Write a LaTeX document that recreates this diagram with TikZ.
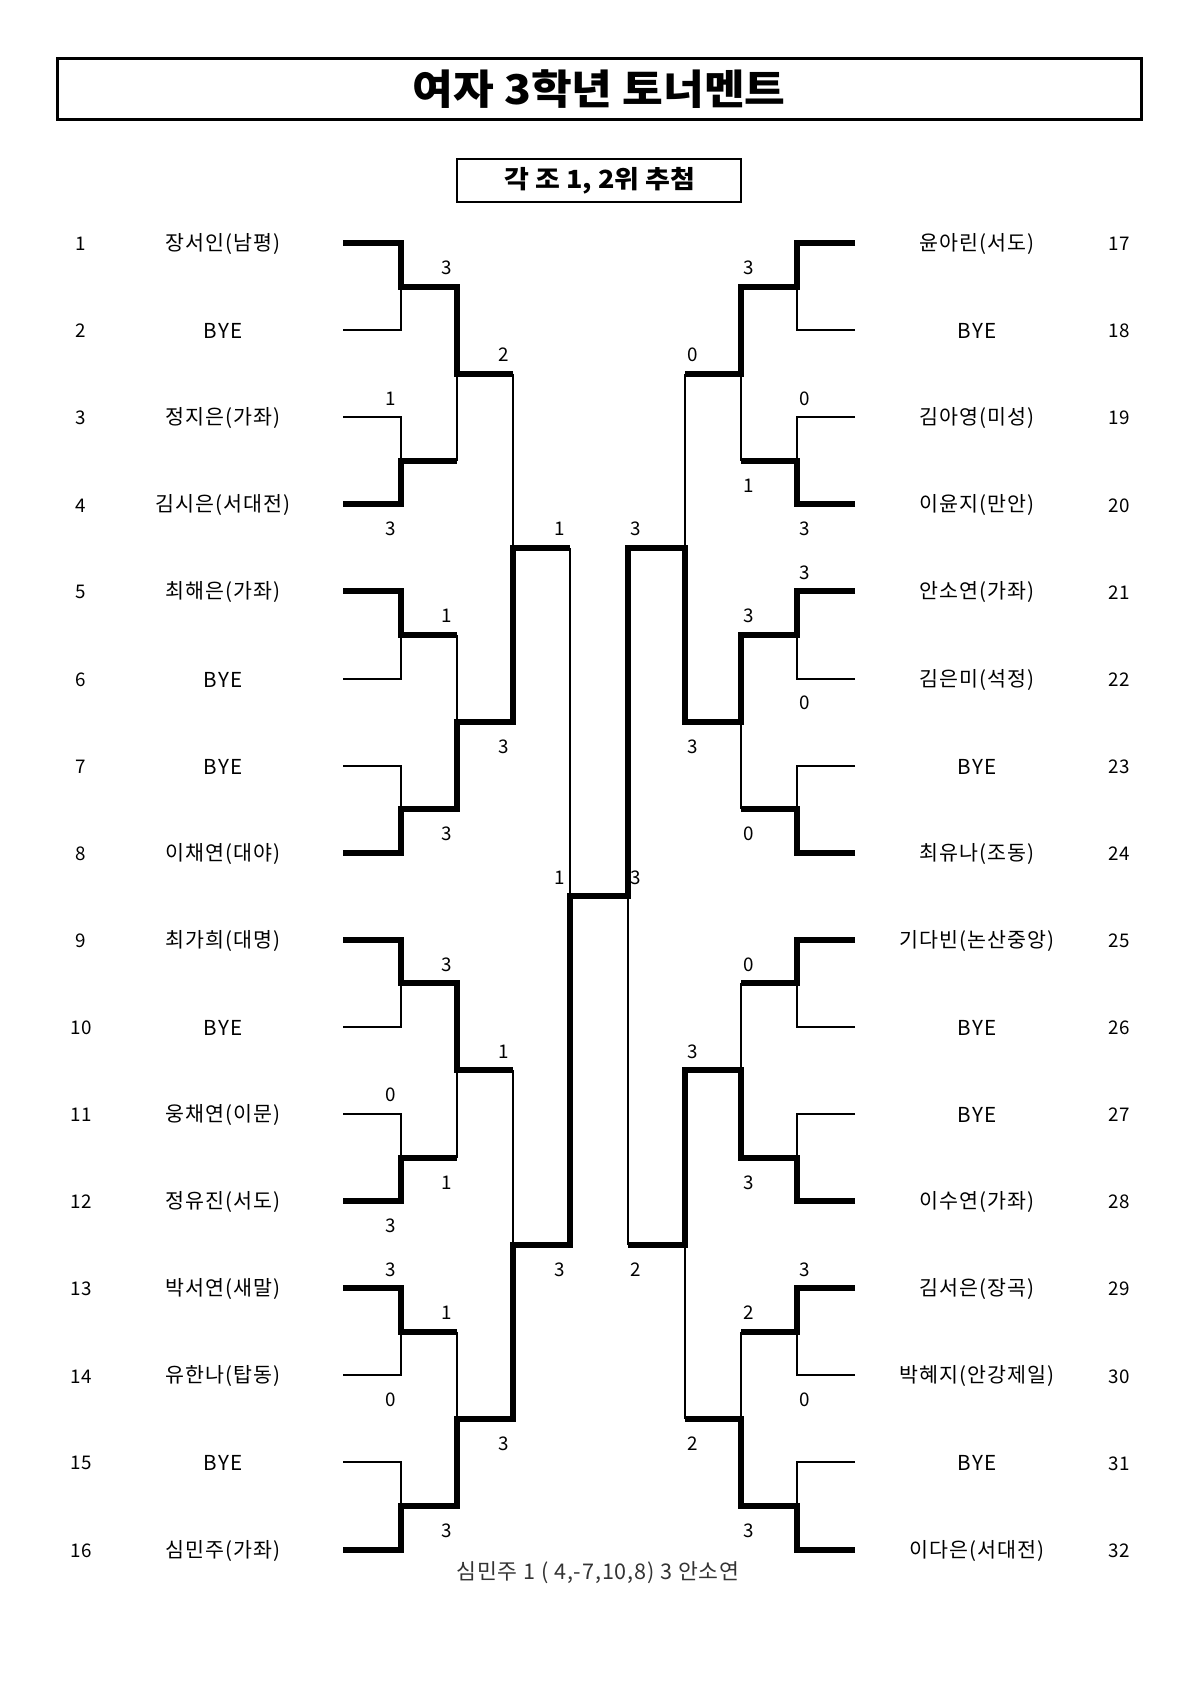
\documentclass[tikz,border=0pt]{standalone}
\usepackage{fontspec}
\setmainfont{Noto Sans CJK KR}
\pgfmathdeclarefunction{ry}{1}{\pgfmathparse{243+(#1-1)*87.1}}
% match drawing: #1 x in, #2 x vertical, #3 x out, #4 winner row, #5 loser row, #6 middle row
\newcommand\mtch[6]{%
  \draw[lose] (#2,{ry(#5)}) -- (#2,{ry(#6)});
  \draw[win] (#1,{ry(#4)}) -- (#2,{ry(#4)}) -- (#2,{ry(#6)}) -- (#3,{ry(#6)});}
\newcommand\fst[6]{%
  \draw[lose] (#1,{ry(#5)}) -- (#2,{ry(#5)}) -- (#2,{ry(#6)});
  \draw[win] (#1,{ry(#4)}) -- (#2,{ry(#4)}) -- (#2,{ry(#6)}) -- (#3,{ry(#6)});}
\begin{document}
\begin{tikzpicture}[x=0.5pt,y=-0.5pt,
  win/.style={line width=3pt, line join=miter},
  lose/.style={line width=1pt, line join=miter},
  nm/.style={font=\fontsize{10.3}{12}\selectfont\addfontfeature{LetterSpace=5}, inner sep=0pt},
  num/.style={font=\fontsize{9.4}{11}\selectfont, inner sep=0pt},
  sc/.style={font=\fontsize{9.4}{11}\selectfont, inner sep=0pt},
]
\useasboundingbox (0,0) rectangle (1200,1697);
\fill[white] (0,0) rectangle (1200,1697);

% title
\draw[line width=1.5pt] (57,58) rectangle (1141,119);
\node[inner sep=0pt, font=\fontsize{20.5}{24}\selectfont\bfseries] (title) at (599,89) {\scalebox{1.08}[1]{여자 3학년 토너멘트}};
\draw[line width=1.1pt] (457,159) rectangle (741,202);
\node[inner sep=0pt, font=\fontsize{12.5}{15}\selectfont\bfseries] (sub) at (600,181) {\scalebox{1.08}[1]{각 조 1, 2위 추첨}};

% ---------- left side ----------
\def\La{343}\def\Lb{401}\def\Lc{457}\def\Ld{513}\def\Le{570}
\def\Ra{855}\def\Rb{797}\def\Rc{741}\def\Rd{685}\def\Re{628}
% round 1
\fst{\La}{\Lb}{\Lc}{1}{2}{1.5}
\fst{\La}{\Lb}{\Lc}{4}{3}{3.5}
\fst{\La}{\Lb}{\Lc}{5}{6}{5.5}
\fst{\La}{\Lb}{\Lc}{8}{7}{7.5}
\fst{\La}{\Lb}{\Lc}{9}{10}{9.5}
\fst{\La}{\Lb}{\Lc}{12}{11}{11.5}
\fst{\La}{\Lb}{\Lc}{13}{14}{13.5}
\fst{\La}{\Lb}{\Lc}{16}{15}{15.5}
% round 2
\mtch{\Lb}{\Lc}{\Ld}{1.5}{3.5}{2.5}
\mtch{\Lb}{\Lc}{\Ld}{7.5}{5.5}{6.5}
\mtch{\Lb}{\Lc}{\Ld}{9.5}{11.5}{10.5}
\mtch{\Lb}{\Lc}{\Ld}{15.5}{13.5}{14.5}
% round 3
\mtch{\Lc}{\Ld}{\Le}{6.5}{2.5}{4.5}
\mtch{\Lc}{\Ld}{\Le}{14.5}{10.5}{12.5}
% semifinal
\mtch{\Ld}{\Le}{\Re}{12.5}{4.5}{8.5}

% ---------- right side ----------
\fst{\Ra}{\Rb}{\Rc}{1}{2}{1.5}
\fst{\Ra}{\Rb}{\Rc}{4}{3}{3.5}
\fst{\Ra}{\Rb}{\Rc}{5}{6}{5.5}
\fst{\Ra}{\Rb}{\Rc}{8}{7}{7.5}
\fst{\Ra}{\Rb}{\Rc}{9}{10}{9.5}
\fst{\Ra}{\Rb}{\Rc}{12}{11}{11.5}
\fst{\Ra}{\Rb}{\Rc}{13}{14}{13.5}
\fst{\Ra}{\Rb}{\Rc}{16}{15}{15.5}
\mtch{\Rb}{\Rc}{\Rd}{1.5}{3.5}{2.5}
\mtch{\Rb}{\Rc}{\Rd}{5.5}{7.5}{6.5}
\mtch{\Rb}{\Rc}{\Rd}{11.5}{9.5}{10.5}
\mtch{\Rb}{\Rc}{\Rd}{15.5}{13.5}{14.5}
\mtch{\Rc}{\Rd}{\Re}{6.5}{2.5}{4.5}
\mtch{\Rc}{\Rd}{\Re}{10.5}{14.5}{12.5}
\mtch{\Rd}{\Re}{\Le}{4.5}{12.5}{8.5}

% ---------- entries ----------
\foreach \r/\t [count=\i] in {1/장서인(남평),2/BYE,3/정지은(가좌),4/김시은(서대전),5/최해은(가좌),6/BYE,7/BYE,8/이채연(대야),9/최가희(대명),10/BYE,11/웅채연(이문),12/정유진(서도),13/박서연(새말),14/유한나(탑동),15/BYE,16/심민주(가좌)}{
  \node[num] (pl\r) at (81,{ry(\r)+1}) {\r};
  \node[nm] (nl\r) at (223,{ry(\r)+1}) {\t};
}
\foreach \r/\t [count=\i] in {17/윤아린(서도),18/BYE,19/김아영(미성),20/이윤지(만안),21/안소연(가좌),22/김은미(석정),23/BYE,24/최유나(조동),25/기다빈(논산중앙),26/BYE,27/BYE,28/이수연(가좌),29/김서은(장곡),30/박혜지(안강제일),31/BYE,32/이다은(서대전)}{
  \node[num] (pr\r) at (1119,{ry(\r-16)+1}) {\r};
  \node[nm] (nr\r) at (977,{ry(\r-16)+1}) {\t};
}

% ---------- scores ----------
\def\lA{391}\def\lB{447}\def\lC{504}\def\lD{560}
\def\rA{805}\def\rB{749}\def\rC{693}\def\rD{636}
\foreach \x/\p/\s [count=\i] in {
 \lB/1.25/3, \lC/2.25/2, \lA/2.75/1, \lA/4.25/3, \lD/4.25/1, \lB/5.25/1, \lC/6.75/3, \lB/7.75/3,
 \lD/8.25/1, \lB/9.25/3, \lC/10.25/1, \lA/10.75/0, \lB/11.75/1, \lA/12.25/3, \lD/12.75/3, \lA/12.75/3,
 \lB/13.25/1, \lA/14.25/0, \lC/14.75/3, \lB/15.75/3,
 \rB/1.25/3, \rC/2.25/0, \rA/2.75/0, \rB/3.75/1, \rA/4.25/3, \rD/4.25/3, \rA/4.75/3, \rB/5.25/3,
 \rA/6.25/0, \rC/6.75/3, \rB/7.75/0, \rD/8.25/3, \rB/9.25/0, \rC/10.25/3, \rB/11.75/3, \rD/12.75/2,
 \rA/12.75/3, \rB/13.25/2, \rA/14.25/0, \rC/14.75/2, \rB/15.75/3}{
  \node[sc] (s\i) at (\x,{ry(\p)+3}) {\s};
}

% final result
\node[inner sep=0pt, text=black!80, font=\fontsize{10.8}{13}\selectfont\addfontfeature{LetterSpace=4}] (res) at (598,1573) {심민주 1 ( 4,-7,10,8) 3 안소연};
\end{tikzpicture}
\end{document}
